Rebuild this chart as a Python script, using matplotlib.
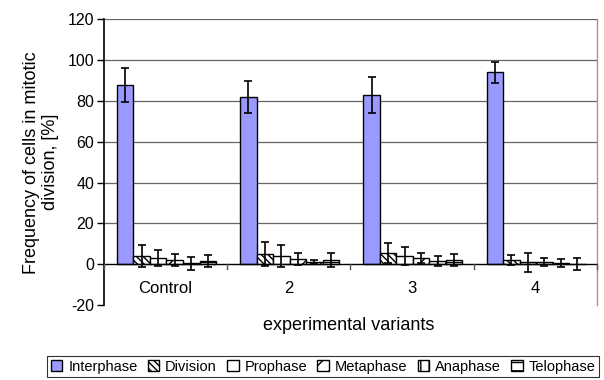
import matplotlib
matplotlib.use("Agg")
import matplotlib.pyplot as plt
import numpy as np

plt.rcParams['font.family'] = ['Liberation Sans', 'DejaVu Sans']
plt.rcParams['axes.unicode_minus'] = False

categories = ["Control", "2", "3", "4"]
series = ["Interphase", "Division", "Prophase", "Metaphase", "Anaphase", "Telophase"]
interphase = [88, 82, 83, 94]
interphase_err = [8.3, 7.8, 9.0, 5.0]
division = [4, 5, 5.5, 2]
division_err = [5.5, 6, 5, 2.5]
prophase = [3, 4, 4, 1]
prophase_err = [4, 5.5, 4.5, 4.7]
metaphase = [2, 2.5, 3, 1]
metaphase_err = [3, 3, 2.5, 2]
anaphase = [0.5, 1, 1.5, 0.6]
anaphase_err = [3.3, 1, 2.5, 1.8]
telophase = [1.7, 2, 2, 0]
telophase_err = [2.8, 3.5, 3, 3]

values = [interphase, division, prophase, metaphase, anaphase, telophase]
errors = [interphase_err, division_err, prophase_err, metaphase_err, anaphase_err, telophase_err]
faces = ['#9999FF', 'white', 'white', 'white', 'white', 'white']
hatches = [None, '\\\\\\\\\\', None, '//', '||', '--']

fig = plt.figure(figsize=(6.04, 3.80), dpi=100)
ax = fig.add_axes([0.172, 0.197, 0.816, 0.752])

x = np.arange(len(categories))
w = 0.134
for i, (vals, errs) in enumerate(zip(values, errors)):
    pos = x + (i - 2.5) * w + 0.008
    ax.bar(pos, vals, width=w, color=faces[i], edgecolor='black', linewidth=1.0,
           hatch=hatches[i], label=series[i], zorder=3)
    ax.errorbar(pos, vals, yerr=errs, fmt='none', ecolor='black', elinewidth=1.2,
                capsize=3, capthick=1.2, zorder=4)

ax.set_xlim(-0.5, 3.5)
ax.set_ylim(-20, 120)
ax.set_yticks(range(-20, 121, 20))
ax.tick_params(axis='y', direction='out', length=5, width=1, labelsize=11.5, pad=2)
for yv in range(20, 121, 20):
    ax.axhline(yv, color='#666666', lw=0.9, zorder=1)
ax.axhline(0, color='black', lw=1.0, zorder=5)
for b in np.arange(-0.5, 3.6, 1.0):
    ax.plot([b, b], [0, -2.2], color='#555555', lw=1.0, zorder=5, clip_on=False)
ax.set_xticks([])
for xi, c in zip(x, categories):
    ax.text(xi, -12, c, ha='center', va='center', fontsize=12)

for s in ['top', 'right', 'bottom']:
    ax.spines[s].set_visible(False)
ax.spines['left'].set_linewidth(1.2)
ax.plot([3.5, 3.5], [-20, 120], color='#999999', lw=1.0, clip_on=False, zorder=2)

ax.set_ylabel("Frequency of cells in mitotic\ndivision, [%]", fontsize=13, labelpad=6)
fig.text(0.578, 0.143, "experimental variants", ha='center', va='center', fontsize=13)

leg = fig.legend(loc='lower center', bbox_to_anchor=(0.535, -0.012), ncol=6, fontsize=10.5,
                 frameon=True, fancybox=False, edgecolor='black', handlelength=0.8,
                 handleheight=0.8, handletextpad=0.4, columnspacing=0.7, borderpad=0.25)
leg.get_frame().set_linewidth(0.8)

fig.savefig("out.png", dpi=100)
